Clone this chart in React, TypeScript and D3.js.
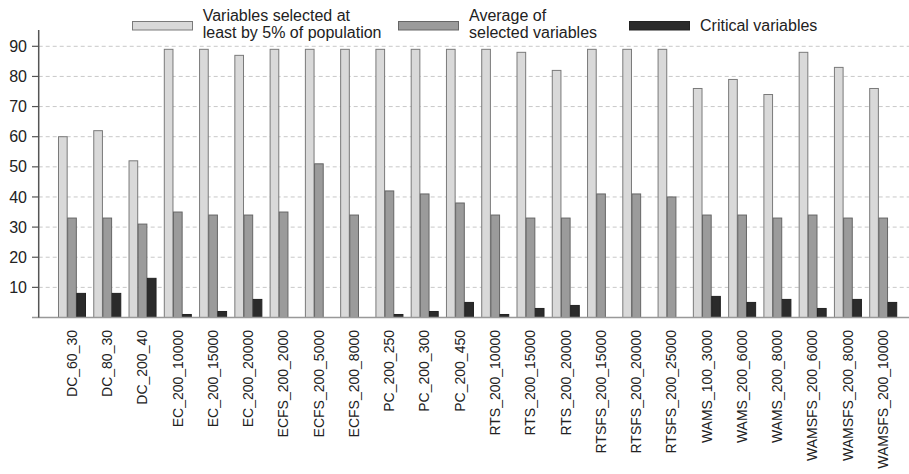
import React from "react";
import * as d3 from "d3";

const categories = [
  "DC_60_30", "DC_80_30", "DC_200_40", "EC_200_10000", "EC_200_15000", "EC_200_20000",
  "ECFS_200_2000", "ECFS_200_5000", "ECFS_200_8000", "PC_200_250", "PC_200_300", "PC_200_450",
  "RTS_200_10000", "RTS_200_15000", "RTS_200_20000", "RTSFS_200_15000", "RTSFS_200_20000", "RTSFS_200_25000",
  "WAMS_100_3000", "WAMS_200_6000", "WAMS_200_8000", "WAMSFS_200_6000", "WAMSFS_200_8000", "WAMSFS_200_10000",
];
const selected5 = [60, 62, 52, 89, 89, 87, 89, 89, 89, 89, 89, 89, 89, 88, 82, 89, 89, 89, 76, 79, 74, 88, 83, 76];
const avgSelected = [33, 33, 31, 35, 34, 34, 35, 51, 34, 42, 41, 38, 34, 33, 33, 41, 41, 40, 34, 34, 33, 34, 33, 33];
const critical = [8, 8, 13, 1, 2, 6, 0, 0, 0, 1, 2, 5, 1, 3, 4, 0, 0, 0, 7, 5, 6, 3, 6, 5];
const yTicks = [10, 20, 30, 40, 50, 60, 70, 80, 90];
const seriesNames = ["sel", "avg", "crit"];

const W = 909;
const H = 474;
const FONT = "'Liberation Sans', Arial, Helvetica, sans-serif";

export default function App() {
  const axisX = 38.7;
  const baseY = 317.5;
  const y = d3.scaleLinear().domain([0, 90]).range([baseY, 46.3]);
  const x = d3.scaleBand<string>().domain(categories).range([axisX, 916]).paddingInner(0.22).paddingOuter(0.547);
  const xs = d3.scaleBand<string>().domain(seriesNames).range([0, x.bandwidth()]).padding(0);
  const fills: Record<string, string> = { sel: "#d9d9d9", avg: "#9b9b9b", crit: "#2b2b2b" };
  const strokes: Record<string, string> = { sel: "#7a7a7a", avg: "#666666", crit: "#222222" };
  const data: Record<string, number[]> = { sel: selected5, avg: avgSelected, crit: critical };

  return (
    <svg width={W} height={H} style={{ position: "absolute", left: 0, top: 0, background: "#fff" }} fontFamily={FONT}>
      <rect x={0} y={0} width={W} height={H} fill="#fff" />
      {/* gridlines */}
      {yTicks.map((t) => (
        <line key={"g" + t} x1={axisX} x2={W} y1={y(t)} y2={y(t)} stroke="#c8c8c8" strokeWidth={1} strokeDasharray="4,3" />
      ))}
      {/* bars */}
      {categories.map((c, i) => (
        <g key={c} transform={`translate(${x(c)},0)`}>
          {seriesNames.map((s) => {
            const v = data[s][i];
            const top = y(v);
            return (
              <rect
                key={s}
                x={xs(s)! + 0.5}
                y={top}
                width={xs.bandwidth() - 0.5}
                height={Math.max(0, baseY - top)}
                fill={fills[s]}
                stroke={strokes[s]}
                strokeWidth={1}
              />
            );
          })}
        </g>
      ))}
      {/* baseline */}
      <line x1={32} x2={W} y1={baseY} y2={baseY} stroke="#999" strokeWidth={1.5} />
      {/* y axis */}
      <line x1={axisX} x2={axisX} y1={30} y2={baseY} stroke="#555" strokeWidth={1.5} />
      {yTicks.map((t) => (
        <g key={"t" + t}>
          <line x1={32} x2={axisX} y1={y(t)} y2={y(t)} stroke="#555" strokeWidth={1.2} />
          <text x={27} y={y(t)} dy="0.35em" textAnchor="end" fontSize={16} fill="#222">
            {t}
          </text>
        </g>
      ))}
      {/* x labels */}
      {categories.map((c) => (
        <text
          key={"l" + c}
          transform={`translate(${x(c)! + x.bandwidth() / 2 + 5},330) rotate(-90)`}
          textAnchor="end"
          fontSize={14}
          fill="#222"
        >
          {c}
        </text>
      ))}
      {/* legend */}
      <rect x={132.5} y={21.5} width={60} height={8.5} fill={fills.sel} stroke={strokes.sel} />
      <text x={202.7} y={20.7} fontSize={16} fill="#222">Variables selected at</text>
      <text x={202.7} y={38.3} fontSize={16} fill="#222">least by 5% of population</text>
      <rect x={398.5} y={21.5} width={60} height={8.5} fill={fills.avg} stroke={strokes.avg} />
      <text x={469} y={20.7} fontSize={16} fill="#222">Average of</text>
      <text x={469} y={38.3} fontSize={16} fill="#222">selected variables</text>
      <rect x={629.5} y={21.5} width={60} height={8.5} fill={fills.crit} stroke={strokes.crit} />
      <text x={700} y={31} fontSize={16} fill="#222">Critical variables</text>
    </svg>
  );
}
